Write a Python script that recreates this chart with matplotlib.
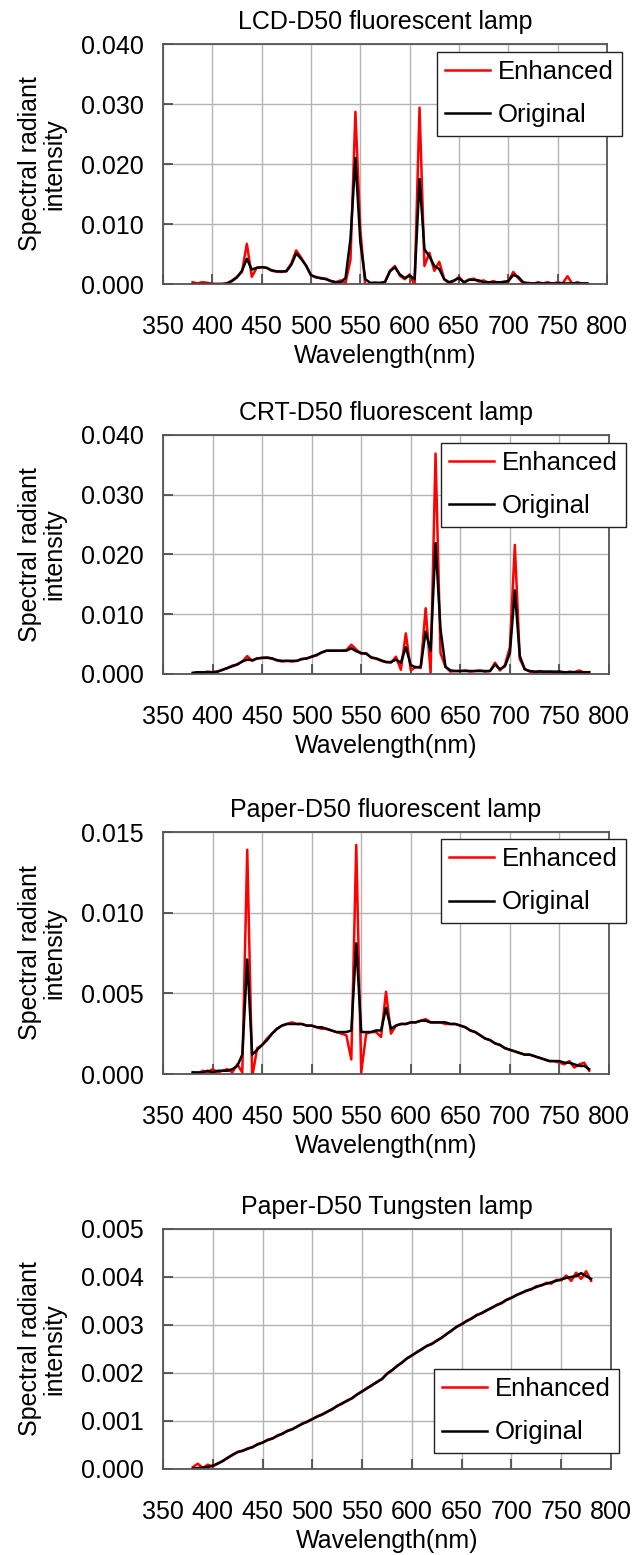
import numpy as np
import matplotlib
matplotlib.use('Agg')
import matplotlib.pyplot as plt

plt.rcParams['font.family'] = ['Liberation Sans', 'DejaVu Sans']

# wavelength samples (nm)
wavelength = np.arange(380, 781, 5)

lcd_enhanced = [
    0.0003, 0.0001, 0.0003, 0.0002, 0.0000, 0.0000, 0.0000, 0.0001, 0.0006, 0.0012,
    0.0020, 0.0067, 0.0012, 0.0027, 0.0028, 0.0027, 0.0022, 0.0021, 0.0020, 0.0022,
    0.0034, 0.0056, 0.0044, 0.0030, 0.0014, 0.0012, 0.0009, 0.0009, 0.0005, 0.0003,
    0.0006, 0.0002, 0.0040, 0.0287, 0.0090, -0.0003, 0.0001, 0.0002, 0.0001, 0.0004,
    0.0022, 0.0030, 0.0014, 0.0008, 0.0016, -0.0002, 0.0294, 0.0030, 0.0052, 0.0022,
    0.0037, 0.0008, 0.0001, 0.0005, 0.0012, 0.0002, 0.0007, 0.0009, 0.0004, 0.0006,
    0.0002, 0.0005, 0.0001, 0.0004, 0.0004, 0.0020, 0.0010, 0.0001, 0.0002, 0.0000,
    0.0003, 0.0001, 0.0003, 0.0000, 0.0003, 0.0001, 0.0013, 0.0000, 0.0003, 0.0000,
    0.0001]
lcd_original = [
    0.0000, 0.0000, 0.0000, 0.0000, 0.0000, 0.0000, 0.0000, 0.0001, 0.0005, 0.0011,
    0.0022, 0.0042, 0.0024, 0.0027, 0.0028, 0.0027, 0.0023, 0.0021, 0.0021, 0.0021,
    0.0032, 0.0051, 0.0042, 0.0031, 0.0015, 0.0011, 0.0010, 0.0008, 0.0005, 0.0003,
    0.0003, 0.0010, 0.0075, 0.0210, 0.0070, 0.0008, 0.0002, 0.0002, 0.0002, 0.0003,
    0.0021, 0.0028, 0.0016, 0.0010, 0.0014, 0.0008, 0.0175, 0.0058, 0.0046, 0.0030,
    0.0025, 0.0008, 0.0003, 0.0006, 0.0010, 0.0003, 0.0007, 0.0007, 0.0006, 0.0003,
    0.0003, 0.0003, 0.0003, 0.0003, 0.0005, 0.0015, 0.0012, 0.0003, 0.0001, 0.0001,
    0.0001, 0.0001, 0.0001, 0.0001, 0.0001, 0.0001, 0.0001, 0.0001, 0.0001, 0.0001,
    0.0001]

crt_enhanced = [
    0.0001, 0.0003, 0.0002, 0.0004, 0.0003, 0.0004, 0.0007, 0.0010, 0.0014, 0.0016,
    0.0021, 0.0030, 0.0022, 0.0026, 0.0027, 0.0028, 0.0026, 0.0023, 0.0021, 0.0022,
    0.0021, 0.0022, 0.0025, 0.0026, 0.0029, 0.0031, 0.0036, 0.0039, 0.0039, 0.0039,
    0.0039, 0.0040, 0.0049, 0.0041, 0.0034, 0.0035, 0.0027, 0.0026, 0.0022, 0.0020,
    0.0019, 0.0029, 0.0007, 0.0068, 0.0006, 0.0012, 0.0010, 0.0110, 0.0002, 0.0369,
    0.0035, 0.0012, 0.0004, 0.0005, 0.0005, 0.0006, 0.0004, 0.0005, 0.0006, 0.0004,
    0.0005, 0.0019, 0.0006, 0.0015, 0.0045, 0.0216, 0.0025, 0.0008, 0.0004, 0.0003,
    0.0005, 0.0003, 0.0004, 0.0002, 0.0004, 0.0001, 0.0004, 0.0003, 0.0006, 0.0002,
    0.0003]
crt_original = [
    0.0002, 0.0003, 0.0003, 0.0003, 0.0003, 0.0004, 0.0007, 0.0010, 0.0013, 0.0016,
    0.0021, 0.0024, 0.0023, 0.0026, 0.0027, 0.0027, 0.0026, 0.0023, 0.0022, 0.0022,
    0.0022, 0.0022, 0.0025, 0.0026, 0.0029, 0.0032, 0.0036, 0.0039, 0.0039, 0.0039,
    0.0039, 0.0039, 0.0043, 0.0038, 0.0035, 0.0034, 0.0028, 0.0026, 0.0023, 0.0020,
    0.0020, 0.0024, 0.0019, 0.0045, 0.0015, 0.0011, 0.0012, 0.0071, 0.0039, 0.0219,
    0.0075, 0.0012, 0.0006, 0.0005, 0.0005, 0.0005, 0.0005, 0.0005, 0.0005, 0.0005,
    0.0005, 0.0016, 0.0008, 0.0013, 0.0035, 0.0140, 0.0030, 0.0008, 0.0005, 0.0004,
    0.0004, 0.0004, 0.0004, 0.0004, 0.0004, 0.0003, 0.0003, 0.0003, 0.0003, 0.0003,
    0.0003]

paper_fl_enhanced = [
    0.0001, 0.0000, 0.0002, 0.0001, 0.0003, 0.0001, 0.0002, 0.0003, 0.0001, 0.0006,
    0.0001, 0.0139, -0.0002, 0.0016, 0.0018, 0.0022, 0.0025, 0.0028, 0.0030, 0.0031,
    0.0032, 0.0031, 0.0031, 0.0030, 0.0030, 0.0029, 0.0028, 0.0028, 0.0027, 0.0026,
    0.0025, 0.0024, 0.0009, 0.0142, 0.0001, 0.0025, 0.0026, 0.0026, 0.0023, 0.0051,
    0.0025, 0.0030, 0.0031, 0.0031, 0.0032, 0.0032, 0.0033, 0.0034, 0.0032, 0.0032,
    0.0032, 0.0031, 0.0031, 0.0031, 0.0030, 0.0029, 0.0027, 0.0026, 0.0024, 0.0022,
    0.0021, 0.0019, 0.0018, 0.0016, 0.0015, 0.0014, 0.0013, 0.0012, 0.0012, 0.0011,
    0.0010, 0.0009, 0.0008, 0.0008, 0.0007, 0.0006, 0.0008, 0.0004, 0.0006, 0.0007,
    0.0002]
paper_fl_original = [
    0.0001, 0.0001, 0.0001, 0.0002, 0.0001, 0.0002, 0.0002, 0.0002, 0.0003, 0.0005,
    0.0012, 0.0071, 0.0012, 0.0015, 0.0018, 0.0021, 0.0025, 0.0028, 0.0030, 0.0031,
    0.0031, 0.0031, 0.0031, 0.0030, 0.0030, 0.0029, 0.0029, 0.0028, 0.0027, 0.0026,
    0.0026, 0.0026, 0.0027, 0.0081, 0.0026, 0.0026, 0.0026, 0.0027, 0.0027, 0.0041,
    0.0028, 0.0030, 0.0031, 0.0031, 0.0032, 0.0032, 0.0033, 0.0033, 0.0032, 0.0032,
    0.0032, 0.0032, 0.0031, 0.0031, 0.0030, 0.0029, 0.0027, 0.0026, 0.0024, 0.0022,
    0.0021, 0.0019, 0.0018, 0.0016, 0.0015, 0.0014, 0.0013, 0.0012, 0.0012, 0.0011,
    0.0010, 0.0009, 0.0008, 0.0008, 0.0008, 0.0007, 0.0007, 0.0006, 0.0005, 0.0005,
    0.0003]

tungsten_enhanced = [
    0.00004, 0.00011, 0.00002, 0.00009, 0.00005, 0.00012, 0.00016, 0.00024, 0.00029, 0.00036,
    0.00038, 0.00043, 0.00045, 0.00052, 0.00055, 0.00061, 0.00063, 0.00070, 0.00073, 0.00080,
    0.00083, 0.00088, 0.00095, 0.00098, 0.00104, 0.00110, 0.00113, 0.00120, 0.00124, 0.00132,
    0.00136, 0.00143, 0.00147, 0.00156, 0.00161, 0.00169, 0.00174, 0.00182, 0.00187, 0.00199,
    0.00205, 0.00215, 0.00221, 0.00231, 0.00236, 0.00244, 0.00249, 0.00257, 0.00260, 0.00268,
    0.00273, 0.00282, 0.00288, 0.00297, 0.00301, 0.00309, 0.00313, 0.00321, 0.00324, 0.00331,
    0.00335, 0.00342, 0.00345, 0.00353, 0.00356, 0.00363, 0.00366, 0.00372, 0.00374, 0.00381,
    0.00382, 0.00388, 0.00386, 0.00394, 0.00393, 0.00403, 0.00392, 0.00409, 0.00396, 0.00412,
    0.00392]
tungsten_original = [
    0.00001, 0.00002, 0.00003, 0.00004, 0.00007, 0.00011, 0.00017, 0.00023, 0.00030, 0.00035,
    0.00038, 0.00042, 0.00046, 0.00051, 0.00055, 0.00060, 0.00064, 0.00069, 0.00074, 0.00079,
    0.00083, 0.00089, 0.00094, 0.00099, 0.00104, 0.00109, 0.00114, 0.00119, 0.00125, 0.00131,
    0.00137, 0.00142, 0.00148, 0.00155, 0.00162, 0.00168, 0.00175, 0.00181, 0.00188, 0.00198,
    0.00206, 0.00214, 0.00222, 0.00230, 0.00237, 0.00243, 0.00250, 0.00256, 0.00261, 0.00267,
    0.00274, 0.00281, 0.00289, 0.00296, 0.00302, 0.00308, 0.00314, 0.00320, 0.00325, 0.00330,
    0.00336, 0.00341, 0.00346, 0.00352, 0.00357, 0.00362, 0.00367, 0.00371, 0.00375, 0.00379,
    0.00383, 0.00386, 0.00389, 0.00392, 0.00395, 0.00398, 0.00400, 0.00402, 0.00408, 0.00402,
    0.00396]

titles = ['LCD-D50 fluorescent lamp', 'CRT-D50 fluorescent lamp',
          'Paper-D50 fluorescent lamp', 'Paper-D50 Tungsten lamp']
y_max = [0.040, 0.040, 0.015, 0.005]
y_step = [0.010, 0.010, 0.005, 0.001]
x_ticks = list(range(350, 801, 50))

series = [(lcd_enhanced, lcd_original), (crt_enhanced, crt_original),
          (paper_fl_enhanced, paper_fl_original), (tungsten_enhanced, tungsten_original)]

W, H = 644, 1555
fig = plt.figure(figsize=(W / 100, H / 100), dpi=100)

# axes boxes in pixels: left, right, top, bottom
boxes = [(163, 607, 44, 284), (163, 609, 435, 674), (163, 609, 832, 1074), (163, 611, 1229, 1469)]
# legend top-left corner in pixels
legend_pos = [(437, 52), (441, 443), (441, 839), (434, 1369)]

fs = 18
for i, (enh, orig) in enumerate(series):
    l, r, t, b = boxes[i]
    ax = fig.add_axes([l / W, 1 - b / H, (r - l) / W, (b - t) / H])
    ax.plot(wavelength, enh, color='#ff0000', lw=1.8, label='Enhanced')
    ax.plot(wavelength, orig, color='black', lw=1.8, label='Original')

    ax.set_xlim(350, 800)
    ax.set_ylim(0, y_max[i])
    ax.set_xticks(x_ticks)
    ax.set_yticks(np.arange(0, y_max[i] + y_step[i] / 2, y_step[i]))
    ax.yaxis.set_major_formatter(matplotlib.ticker.FormatStrFormatter('%.3f'))
    ax.tick_params(direction='in', length=7, width=1.2, color='#444444', labelsize=fs)
    ax.tick_params(axis='x', pad=22)
    ax.tick_params(axis='y', pad=14)
    ax.grid(True, color='#b4b4b4', lw=1.0)
    ax.set_axisbelow(True)
    for s in ax.spines.values():
        s.set_color('#555555')
        s.set_linewidth(1.3)

    ax.set_title(titles[i], fontsize=fs, pad=11)
    ax.set_xlabel('Wavelength(nm)', fontsize=fs, labelpad=4)
    ax.set_ylabel('Spectral radiant\nintensity', fontsize=fs, linespacing=1.0)
    ax.yaxis.label.set_va('center')
    ax.yaxis.set_label_coords((42 - l) / (r - l), 0.5)

    lx, ly = legend_pos[i]
    leg = ax.legend(loc='upper left', bbox_to_anchor=(lx / W, 1 - ly / H),
                    bbox_transform=fig.transFigure, borderaxespad=0,
                    fontsize=fs + 0.5, fancybox=False, framealpha=1,
                    edgecolor='#222222', handlelength=1.75, handletextpad=0.3,
                    labelspacing=0.75, borderpad=0.32)
    leg.get_frame().set_linewidth(1.0)

fig.savefig('out.png', dpi=100)
